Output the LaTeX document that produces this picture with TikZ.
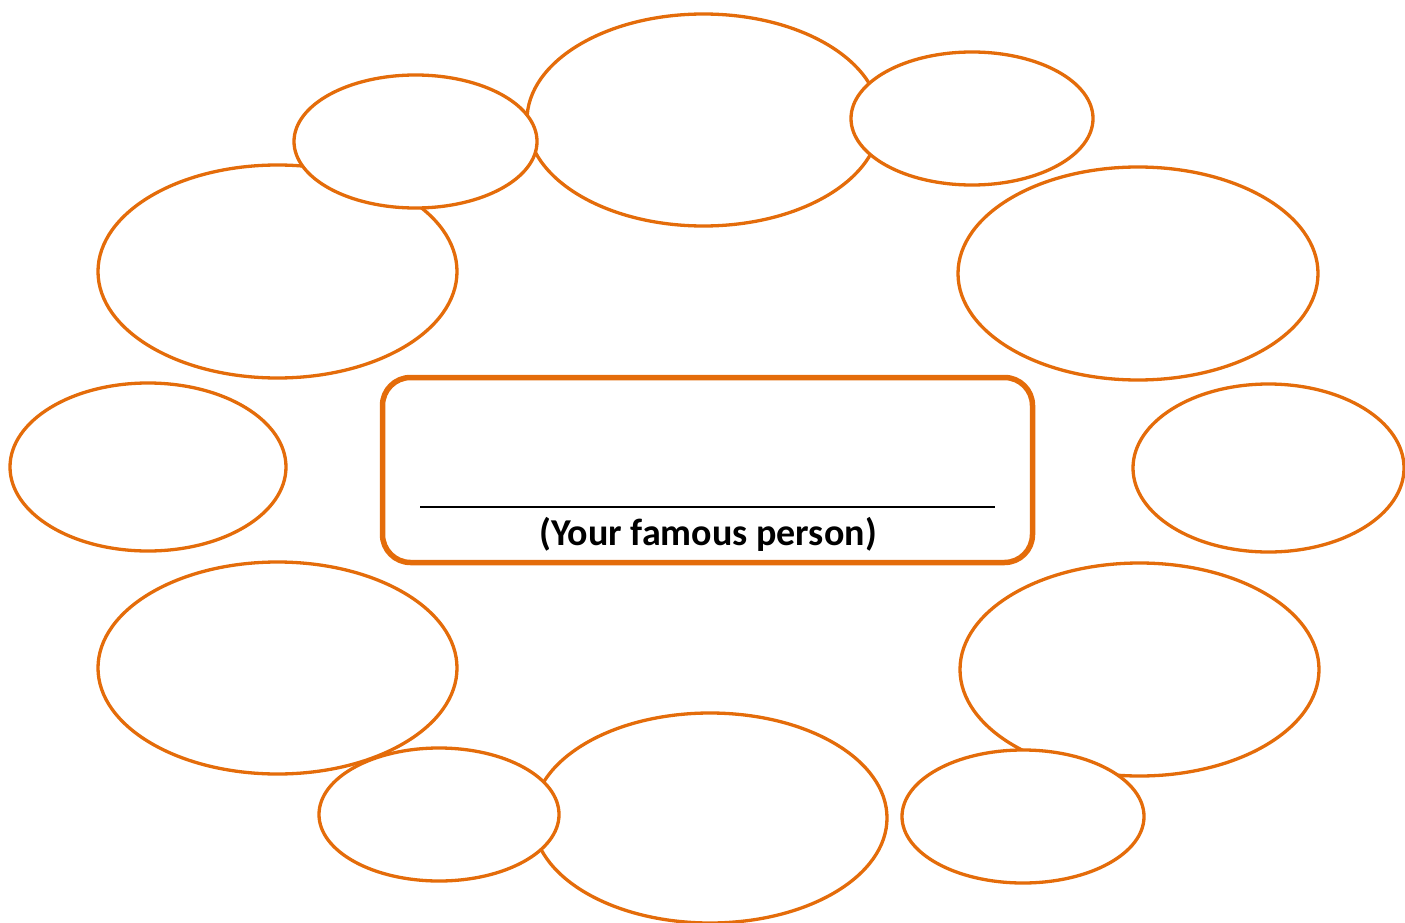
\documentclass[tikz,border=0pt]{standalone}
\usepackage{fontspec}
\setmainfont{Carlito}
\usetikzlibrary{shapes.geometric}
\definecolor{orng}{RGB}{228,108,10}
\tikzset{
  bub/.style={ellipse, draw=orng, fill=white, line width=3.3pt, inner sep=0pt, outer sep=0pt},
  centerbox/.style={draw=orng, fill=white, line width=5.5pt, rounded corners=28pt, inner sep=0pt}
}
\begin{document}
\begin{tikzpicture}[x=1pt,y=-1pt]
\useasboundingbox (0,0) rectangle (1405,923);
% big ellipses first
\node[bub, minimum width=353pt, minimum height=212pt] (topc) at (703.5,120) {};
\node[bub, minimum width=359pt, minimum height=213pt] (lu) at (277.5,271.5) {};
\node[bub, minimum width=360pt, minimum height=213pt] (ru) at (1138,273.5) {};
\node[bub, minimum width=276pt, minimum height=168pt] (lm) at (148,467) {};
\node[bub, minimum width=271pt, minimum height=168pt] (rm) at (1268.5,468) {};
\node[bub, minimum width=359pt, minimum height=212pt] (ll) at (277.5,668) {};
\node[bub, minimum width=359pt, minimum height=213pt] (rl) at (1139.5,669.5) {};
\node[bub, minimum width=354pt, minimum height=210pt] (botc) at (710,818) {};
% small ellipses on top
\node[bub, minimum width=243pt, minimum height=133pt] (tl) at (415.5,141.5) {};
\node[bub, minimum width=242pt, minimum height=133pt] (tr) at (972,118.5) {};
\node[bub, minimum width=240pt, minimum height=133pt] (bl) at (439,814.5) {};
\node[bub, minimum width=242pt, minimum height=133pt] (br) at (1023,816.5) {};
% center box
\node[centerbox, minimum width=650pt, minimum height=185pt] (box) at (707.5,470) {};
\coordinate (blankL) at (420,507);
\coordinate (blankR) at (995,507);
\draw[line width=2.2pt, black] (blankL) -- (blankR);
\node[anchor=base, font=\fontsize{38}{44}\selectfont\bfseries] (label) at (708,545) {(Your famous person)};
\end{tikzpicture}
\end{document}
